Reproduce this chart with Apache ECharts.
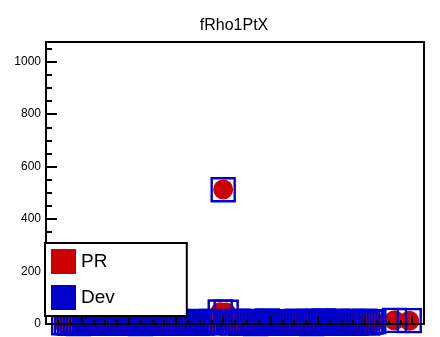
<!DOCTYPE html>
<html>
<head>
<meta charset="utf-8">
<script src="https://cdn.jsdelivr.net/npm/echarts@6/dist/echarts.min.js"></script>
<style>
  html, body { margin: 0; padding: 0; background: #fff; }
  #chart { width: 440px; height: 337px; }
</style>
</head>
<body>
<div id="chart"></div>
<script>
// bin positions (x units, one minor tick = 1)
var xBins = [1.5, 1.75, 2, 2.25, 2.5, 2.75, 3, 3.25, 3.5, 3.75, 4, 4.25, 4.5, 4.75, 5, 5.25, 5.5, 5.75, 6, 6.25,
  6.5, 6.75, 7, 7.25, 7.5, 7.75, 8, 8.25, 8.5, 8.75, 9, 9.25, 9.5, 9.75, 10, 10.25, 10.5, 10.75, 11, 11.25,
  11.5, 11.75, 12, 12.25, 12.5, 12.75, 13, 13.25, 13.5, 13.75, 14, 14.25, 14.5, 14.75, 15, 15.25,
  15.5, 15.75, 16, 16.25, 16.5, 16.75, 17, 17.25, 17.5, 17.75, 18, 18.25, 18.5, 18.75, 19, 19.25, 19.5, 19.75, 20, 20.25,
  20.5, 20.75, 21, 21.25, 21.5, 21.75, 22, 22.25, 22.5, 22.75, 23, 23.25, 23.5, 23.75, 24, 24.25, 24.5, 24.75, 25, 25.25,
  25.5, 25.75, 26, 26.25, 26.5, 26.75, 27, 27.25, 27.5, 27.75, 29.5, 30.75];

var prValues = [4, 7, 3, 9, 5, 2, 8, 6, 10, 4, 3, 7, 5, 9, 2, 6, 8, 4, 11, 5,
  3, 7, 9, 4, 6, 10, 2, 5, 8, 3, 7, 11, 4, 6, 9, 5, 3, 8, 10, 4,
  6, 2, 9, 5, 7, 3, 11, 4, 8, 6, 10, 5, 7,
  45, 513, 44,
  9, 4, 6, 11, 3, 8, 5, 10, 7, 2, 9, 6, 4, 12, 5, 8, 3, 10, 6, 7,
  4, 9, 5, 11, 3, 8, 6, 10, 2, 7, 9, 4, 12, 5, 8, 3, 6, 10, 7, 4,
  9, 5, 11, 3, 8, 6, 10, 4, 7, 9,
  14, 12];

var devValues = [5, 6, 3, 10, 4, 2, 8, 7, 9, 4, 3, 8, 5, 9, 3, 6, 7, 4, 11, 6,
  3, 7, 10, 4, 5, 10, 2, 6, 8, 3, 7, 12, 4, 6, 9, 4, 3, 8, 11, 4,
  6, 3, 9, 5, 7, 3, 10, 4, 8, 7, 10, 5, 6,
  46, 512, 45,
  9, 4, 7, 11, 3, 8, 5, 10, 6, 2, 9, 6, 5, 12, 5, 8, 3, 9, 6, 7,
  4, 9, 6, 11, 3, 7, 6, 10, 2, 7, 10, 4, 12, 5, 8, 3, 6, 11, 7, 4,
  9, 5, 10, 3, 8, 6, 11, 4, 7, 9,
  14, 13];

var yMajorTicks = [0, 200, 400, 600, 800, 1000];
var yMinorTicks = [0, 50, 100, 150, 200, 250, 300, 350, 400, 450, 500, 550, 600, 650, 700, 750, 800, 850, 900, 950, 1000, 1050];
var xMajorTicks = [3, 7, 11, 15, 19, 23, 27, 31];

function pairs(xs, ys) {
  return xs.map(function (x, i) { return [x, ys[i]]; });
}

var myChart = echarts.init(document.getElementById('chart'));
var font = 'Liberation Sans, Arial, sans-serif';

var option = {
  animation: false,
  title: {
    text: 'fRho1PtX',
    left: 229,
    textAlign: 'center',
    top: 13,
    textStyle: { fontFamily: font, fontSize: 16, fontWeight: 'normal', color: '#000' }
  },
  grid: {
    left: 46, right: 16, top: 42, bottom: 13,
    show: true, borderColor: '#000', borderWidth: 2, backgroundColor: '#fff'
  },
  legend: {
    orient: 'vertical',
    left: 45, top: 243,
    z: 10,
    padding: [6, 72, 6, 6],
    itemWidth: 25, itemHeight: 25, itemGap: 11,
    backgroundColor: '#fff',
    borderColor: '#000', borderWidth: 2, borderRadius: 0,
    icon: 'rect',
    textStyle: { fontFamily: font, fontSize: 19, color: '#000' },
    data: [
      { name: 'PR', itemStyle: { color: '#cc0000', borderWidth: 0 } },
      { name: 'Dev', itemStyle: { color: '#0000cc', borderWidth: 0 } }
    ]
  },
  xAxis: [
    {
      type: 'value', min: 0, max: 32, position: 'bottom', z: 5,
      axisLine: { lineStyle: { color: '#000', width: 2 } },
      axisTick: { inside: true, length: 8, customValues: xMajorTicks, lineStyle: { color: '#000', width: 2 } },
      axisLabel: { show: false },
      splitLine: { show: false }
    },
    {
      type: 'value', min: 0, max: 32, interval: 1, position: 'bottom', z: 5,
      axisLine: { show: false },
      axisTick: { inside: true, length: 4, lineStyle: { color: '#000', width: 2 } },
      axisLabel: { show: false },
      splitLine: { show: false }
    }
  ],
  yAxis: [
    {
      type: 'value', min: 0, max: 1075, position: 'left', z: 5,
      axisLine: { lineStyle: { color: '#000', width: 2 } },
      axisTick: { inside: true, length: 11, customValues: yMajorTicks, lineStyle: { color: '#000', width: 2 } },
      axisLabel: {
        customValues: yMajorTicks, margin: 5, fontFamily: font, fontSize: 12, color: '#000',
        formatter: function (v) { return String(v); }
      },
      splitLine: { show: false }
    },
    {
      type: 'value', min: 0, max: 1075, position: 'left', z: 5,
      axisLine: { show: false },
      axisTick: { inside: true, length: 6, customValues: yMinorTicks, lineStyle: { color: '#000', width: 2 } },
      axisLabel: { show: false },
      splitLine: { show: false }
    }
  ],
  series: [
    {
      name: 'PR',
      type: 'scatter',
      xAxisIndex: 0, yAxisIndex: 0,
      clip: false,
      symbol: 'circle',
      symbolSize: 20,
      itemStyle: { color: '#cc0000', opacity: 1 },
      data: pairs(xBins, prValues)
    },
    {
      name: 'Dev',
      type: 'scatter',
      xAxisIndex: 0, yAxisIndex: 0,
      clip: false,
      symbol: 'rect',
      symbolSize: 23,
      itemStyle: { color: 'rgba(0,0,0,0)', borderColor: '#0000cc', borderWidth: 2.4, opacity: 1 },
      data: pairs(xBins, devValues)
    }
  ]
};

myChart.setOption(option);
window.addEventListener('resize', function () { myChart.resize(); });
</script>
</body>
</html>
